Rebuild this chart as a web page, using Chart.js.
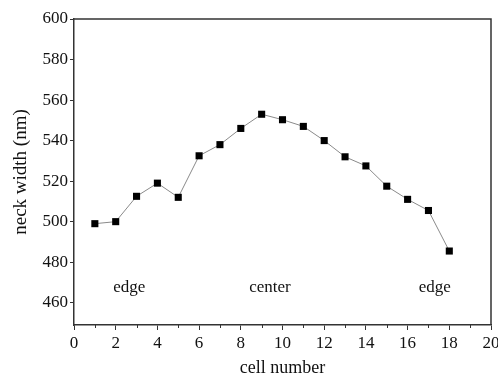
<!DOCTYPE html>
<html>
<head>
<meta charset="utf-8">
<script src="https://cdn.jsdelivr.net/npm/chart.js@4.4.1/dist/chart.umd.min.js"></script>
<style>
    html, body { margin: 0; padding: 0; background: #fff; }
    #wrap { width: 498px; height: 380px; position: relative; }
</style>
</head>
<body>
<div id="wrap"><canvas id="neckChart"></canvas></div>
<script>
// cell number vs neck width
const cellNumbers = [1, 2, 3, 4, 5, 6, 7, 8, 9, 10, 11, 12, 13, 14, 15, 16, 17, 18];
const neckWidths = [499, 500, 512.5, 519, 512, 532.5, 538, 546, 553, 550.3, 547, 540, 532, 527.5, 517.5, 511, 505.5, 485.5];
const xTickValues = [0, 2, 4, 6, 8, 10, 12, 14, 16, 18, 20];
const yTickValues = [460, 480, 500, 520, 540, 560, 580, 600];
const regionNames = ['edge', 'center', 'edge'];
const regionCells = [2.65, 9.4, 17.3];
const regionWidth = 467.5;

const serif = '"Liberation Serif", "DejaVu Serif", serif';
const axisColor = '#333';

// draws the top/right frame, the short minor ticks and the region notes
const frameAndNotes = {
    id: 'frameAndNotes',
    afterDraw(chart) {
        const { ctx, chartArea: a, scales: { x, y } } = chart;
        ctx.save();
        ctx.strokeStyle = axisColor;
        ctx.lineWidth = 1.5;
        ctx.beginPath();
        ctx.moveTo(a.left, a.top);
        ctx.lineTo(a.right, a.top);
        ctx.lineTo(a.right, a.bottom);
        ctx.stroke();

        ctx.lineWidth = 1;
        ctx.beginPath();
        for (let v = 1; v < 20; v += 2) {
            const px = Math.round(x.getPixelForValue(v)) + 0.5;
            ctx.moveTo(px, a.bottom);
            ctx.lineTo(px, a.bottom + 3);
        }
        ctx.stroke();

        ctx.font = '17px ' + serif;
        ctx.fillStyle = '#111';
        ctx.textAlign = 'center';
        ctx.textBaseline = 'middle';
        regionNames.forEach((name, i) => {
            ctx.fillText(name, x.getPixelForValue(regionCells[i]), y.getPixelForValue(regionWidth));
        });
        ctx.restore();
    }
};

new Chart(document.getElementById('neckChart'), {
    type: 'line',
    data: {
        datasets: [{
            data: cellNumbers.map((c, i) => ({ x: c, y: neckWidths[i] })),
            borderColor: '#8a8a8a',
            borderWidth: 1,
            pointStyle: 'rect',
            pointRadius: 5,
            pointBackgroundColor: '#000',
            pointBorderColor: '#000',
            pointBorderWidth: 0,
            tension: 0
        }]
    },
    options: {
        responsive: true,
        maintainAspectRatio: false,
        animation: false,
        devicePixelRatio: 1,
        layout: { padding: { top: 19, right: 7, left: 0, bottom: 0 } },
        plugins: {
            legend: { display: false },
            tooltip: { enabled: false }
        },
        scales: {
            x: {
                type: 'linear',
                min: 0,
                max: 20,
                afterBuildTicks: s => { s.ticks = xTickValues.map(v => ({ value: v })); },
                afterFit: s => {
                    s.height = 55;
                    // let the "20" label run off the edge like the original
                    s.paddingLeft = 0;
                    s.paddingRight = 0;
                },
                ticks: { font: { family: serif, size: 17 }, color: '#111', padding: 3, maxRotation: 0 },
                grid: { drawOnChartArea: false, tickLength: 5, color: axisColor, tickWidth: 1 },
                border: { color: axisColor, width: 1.5 },
                title: {
                    display: true,
                    text: 'cell number',
                    font: { family: serif, size: 18 },
                    color: '#111',
                    padding: { top: 2, bottom: 1 }
                }
            },
            y: {
                min: 449,
                max: 600,
                afterBuildTicks: s => { s.ticks = yTickValues.map(v => ({ value: v })); },
                afterFit: s => { s.width = 74; },
                ticks: { font: { family: serif, size: 17 }, color: '#111', padding: 2 },
                grid: { drawOnChartArea: false, tickLength: 4, color: axisColor, tickWidth: 1 },
                border: { color: axisColor, width: 1.5 },
                title: {
                    display: true,
                    text: 'neck width (nm)',
                    font: { family: serif, size: 19 },
                    color: '#111',
                    padding: { top: 10, bottom: 0 }
                }
            }
        }
    },
    plugins: [frameAndNotes]
});
</script>
</body>
</html>
